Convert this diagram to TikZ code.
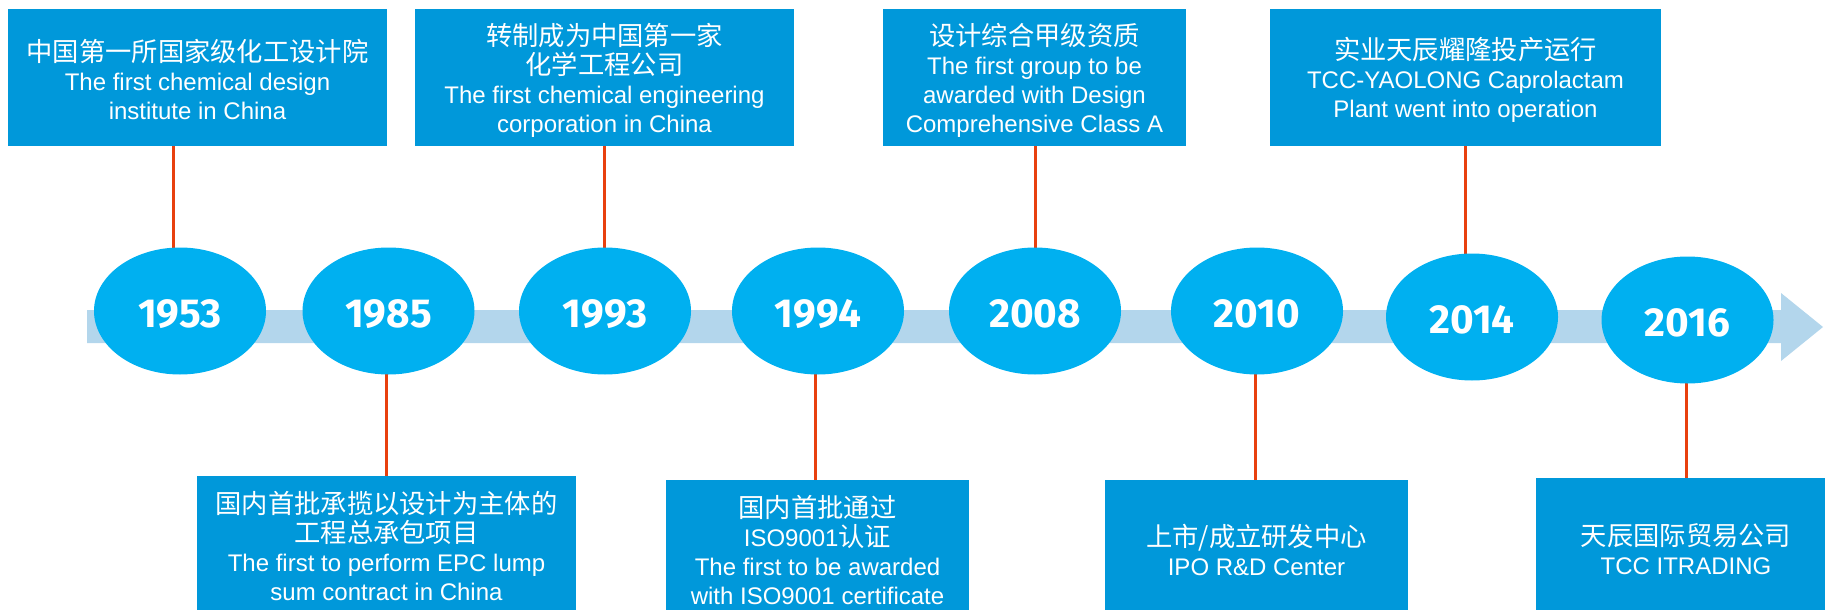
\documentclass[tikz,border=0pt]{standalone}
\usepackage{fontspec}
\usetikzlibrary{shapes.geometric}
\setmainfont{Liberation Sans}
\newfontfamily\zhfont{Noto Sans CJK SC}
\newfontfamily\yearfont{Fira Sans}
\newcommand{\zhtxt}[1]{{\zhfont\fontsize{26.3}{29}\selectfont #1}}
\definecolor{boxblue}{RGB}{0,152,218}
\definecolor{ellblue}{RGB}{0,176,240}
\definecolor{barblue}{RGB}{179,214,236}
\definecolor{conred}{RGB}{232,64,14}
\tikzset{
  evbox/.style={rectangle, fill=boxblue, inner sep=0, outer sep=0},
  lbl/.style={text=white, align=center, inner sep=0, font=\fontsize{24}{29}\selectfont},
  yearell/.style={ellipse, fill=ellblue, minimum width=172, minimum height=127, inner sep=0,
    text=white, text height=32.5pt, text depth=0pt,
    font=\yearfont\bfseries\fontsize{40.5}{40.5}\selectfont},
  conn/.style={draw=conred, line width=3pt},
  bar/.style={fill=barblue}
}
\begin{document}
\begin{tikzpicture}[x=1pt,y=-1pt]
\useasboundingbox (0,0) rectangle (1825,610);

% timeline bar with arrow head
\fill[bar] (87,310) -- (1781,310) -- (1781,293) -- (1823,327) -- (1781,361) -- (1781,343) -- (87,343) -- cycle;

% boxes
\node[evbox, minimum width=379, minimum height=137] (b1) at (197.5,77.5) {};
\node[evbox, minimum width=379, minimum height=137] (b2) at (604.5,77.5) {};
\node[evbox, minimum width=303, minimum height=137] (b3) at (1034.5,77.5) {};
\node[evbox, minimum width=391, minimum height=137] (b4) at (1465.5,77.5) {};
\node[evbox, minimum width=379, minimum height=134] (b5) at (386.5,543) {};
\node[evbox, minimum width=303, minimum height=130] (b6) at (817.5,545) {};
\node[evbox, minimum width=303, minimum height=130] (b7) at (1256.5,545) {};
\node[evbox, minimum width=289, minimum height=132] (b8) at (1680.5,544) {};

% box texts
\node[lbl] (t1) at (197.5,79) {\zhtxt{中国第一所国家级化工设计院}\\The first chemical design\\institute in China};
\node[lbl] (t2) at (604.5,80) {\zhtxt{转制成为中国第一家}\\\zhtxt{化学工程公司}\\The first chemical engineering\\corporation in China};
\node[lbl] (t3) at (1034.5,80) {\zhtxt{设计综合甲级资质}\\The first group to be\\awarded with Design\\Comprehensive Class A};
\node[lbl] (t4) at (1465.5,80) {\zhtxt{实业天辰耀隆投产运行}\\TCC-YAOLONG Caprolactam\\Plant went into operation};
\node[lbl] (t5) at (386.5,546) {\zhtxt{国内首批承揽以设计为主体的}\\\zhtxt{工程总承包项目}\\The first to perform EPC lump\\sum contract in China};
\node[lbl] (t6) at (817.5,550) {\zhtxt{国内首批通过}\\ISO9001\zhtxt{认证}\\The first to be awarded\\with ISO9001 certificate};
\node[lbl] (t7) at (1256.5,550) {\zhtxt{上市/成立研发中心}\\IPO R\&D Center};
\node[lbl] (t8) at (1686,549) {\zhtxt{天辰国际贸易公司}\\TCC ITRADING};

% ellipse positions (coordinates first, so connectors go underneath)
\coordinate (p1) at (180,311);
\coordinate (p2) at (388.5,311);
\coordinate (p3) at (605,311);
\coordinate (p4) at (818,311);
\coordinate (p5) at (1035,311);
\coordinate (p6) at (1257,311);
\coordinate (p7) at (1472,317);
\coordinate (p8) at (1687.5,320);

% connectors
\draw[conn] ([xshift=-7pt]p1) -- ([xshift=-7pt]p1 |- b1.south);
\draw[conn] ([xshift=-2.5pt]p2) -- ([xshift=-2.5pt]p2 |- b5.north);
\draw[conn] ([xshift=-1pt]p3) -- ([xshift=-1pt]p3 |- b2.south);
\draw[conn] ([xshift=-2.5pt]p4) -- ([xshift=-2.5pt]p4 |- b6.north);
\draw[conn] (p5) -- (p5 |- b3.south);
\draw[conn] ([xshift=-2pt]p6) -- ([xshift=-2pt]p6 |- b7.north);
\draw[conn] ([xshift=-7pt]p7) -- ([xshift=-7pt]p7 |- b4.south);
\draw[conn] ([xshift=-1.5pt]p8) -- ([xshift=-1.5pt]p8 |- b8.north);

% year ellipses
\node[yearell] (e1) at (p1) {1953};
\node[yearell] (e2) at (p2) {1985};
\node[yearell] (e3) at (p3) {1993};
\node[yearell] (e4) at (p4) {1994};
\node[yearell] (e5) at (p5) {2008};
\node[yearell] (e6) at (p6) {2010};
\node[yearell] (e7) at (p7) {2014};
\node[yearell] (e8) at (p8) {2016};
\end{tikzpicture}
\end{document}
